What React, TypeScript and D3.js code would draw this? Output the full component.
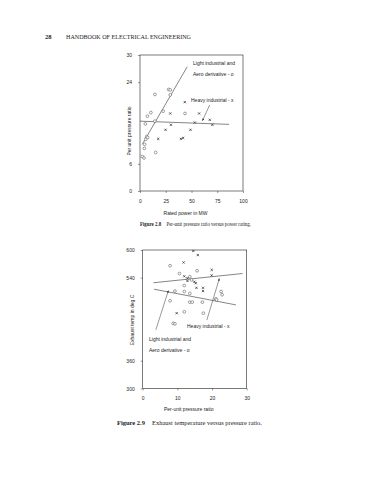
import * as d3 from "d3";
import { useEffect, useRef } from "react";

// Figure 2.8 - per-unit pressure ratio vs rated power
const powerTicks = [0, 25, 50, 75, 100];
const ratioTicks = [0, 6, 24, 30];
const lightPower = [14.5, 27.8, 29.3, 29.4, 22.5, 7.2, 10.6, 43.7, 14.5, 5.2, 6.5, 7.4, 5.5, 4.5, 4.2, 15.2, 2.2, 3.9];
const lightRatio = [21.3, 22.4, 22.3, 21.2, 17.6, 16.5, 17.3, 17.1, 15.4, 14.8, 12.0, 11.8, 11.4, 10.3, 9.4, 8.5, 7.6, 7.3];
const heavyPower = [43.5, 29.4, 57.4, 30.0, 24.8, 53.2, 67.7, 70.3, 17.7, 39.7, 41.9, 49.0];
const heavyRatio = [19.6, 17.1, 17.1, 14.6, 13.5, 15.1, 15.7, 14.6, 11.5, 11.5, 11.7, 13.5];
const lightFit1 = [[2.2, 10.3], [45.8, 27.4]];
const heavyFit1 = [[0, 15.4], [86.5, 14.7]];

// Figure 2.9 - exhaust temperature vs pressure ratio
const prTicks = [0, 10, 20, 30];
const tempTicks = [300, 360, 540, 600];
const heavyPr = [14.6, 15.9, 11.8, 19.9, 19.9, 12.0, 12.9, 14.9, 15.3, 12.9, 15.5, 17.4, 17.4, 9.8];
const heavyTemp = [598, 589, 573, 557, 545, 543, 539, 531, 528, 533, 518, 518, 511, 463];
const lightPr = [7.9, 15.7, 10.6, 13.6, 14.1, 12.0, 9.3, 12.0, 13.6, 22.6, 22.9, 21.1, 21.3, 7.9, 13.6, 14.3, 17.2, 12.0, 17.5, 8.8, 9.3];
const lightTemp = [566, 555, 549, 542, 535, 523, 511, 510, 506, 510, 503, 494, 492, 490, 487, 487, 487, 466, 463, 441, 440];
const heavyFit2 = [[3.1, 529], [28.8, 549]];
const lightFit2 = [[3.3, 515], [26.9, 481]];

const SANS = "Liberation Sans, Arial, sans-serif";
const SERIF = "Liberation Serif, Times New Roman, serif";

type Pt = number[];

interface ChartCfg {
  x: d3.ScaleLinear<number, number>;
  y: d3.ScaleLinear<number, number>;
  xTicks: number[];
  yTicks: number[];
  xTitle: string;
  yTitle: string;
  yTitleX: number;
  yTitleY: number;
  xTitleY: number;
  capBold: string;
  caption: string;
  captionY: number;
  captionX: number;
  captionLen: number;
  circles: Pt[];
  crosses: Pt[];
  fits: Pt[][];
  arrows: Pt[][];
  labels: { text: string; x: number; y: number }[];
}

function drawChart(svg: d3.Selection<SVGSVGElement, unknown, null, undefined>, c: ChartCfg) {
  const g = svg.append("g");
  const [x0, x1] = c.x.range();
  const [y0, y1] = c.y.range();

  // frame
  g.append("rect")
    .attr("x", x0)
    .attr("y", y1)
    .attr("width", x1 - x0)
    .attr("height", y0 - y1)
    .attr("fill", "none")
    .attr("stroke", "#222")
    .attr("stroke-width", 0.6);

  const xAxis = d3.axisBottom(c.x).tickValues(c.xTicks).tickSize(2).tickPadding(6).tickFormat(d3.format("d"));
  const gx = g.append("g").attr("transform", `translate(0,${y0})`).call(xAxis);
  const yAxis = d3.axisLeft(c.y).tickValues(c.yTicks).tickSize(2).tickPadding(6).tickFormat(d3.format("d"));
  const gy = g.append("g").attr("transform", `translate(${x0},0)`).call(yAxis);
  [gx, gy].forEach((a) => {
    a.select(".domain").remove();
    a.selectAll("line").attr("stroke", "#333").attr("stroke-width", 0.5);
    a.selectAll("text").attr("font-family", SANS).attr("font-size", 5).attr("fill", "#222");
  });

  g.append("text")
    .attr("x", (x0 + x1) / 2 - 6)
    .attr("y", c.xTitleY)
    .attr("text-anchor", "middle")
    .attr("font-family", SANS)
    .attr("font-size", 5)
    .attr("fill", "#222")
    .text(c.xTitle);

  g.append("text")
    .attr("transform", `translate(${c.yTitleX},${c.yTitleY}) rotate(-90)`)
    .attr("text-anchor", "middle")
    .attr("font-family", SANS)
    .attr("font-size", 5)
    .attr("fill", "#222")
    .attr("stroke", "white")
    .attr("stroke-width", 3)
    .attr("paint-order", "stroke")
    .text(c.yTitle);

  const line = d3
    .line<Pt>()
    .x((d) => c.x(d[0]))
    .y((d) => c.y(d[1]));

  c.fits.forEach((f) => {
    g.append("path").attr("d", line(f)).attr("fill", "none").attr("stroke", "#333").attr("stroke-width", 0.6);
  });
  c.arrows.forEach((a) => {
    g.append("path")
      .attr("d", line(a))
      .attr("fill", "none")
      .attr("stroke", "#333")
      .attr("stroke-width", 0.5)
      .attr("marker-end", "url(#arrow)");
  });

  g.selectAll("circle.o")
    .data(c.circles)
    .enter()
    .append("circle")
    .attr("cx", (d) => c.x(d[0]))
    .attr("cy", (d) => c.y(d[1]))
    .attr("r", 1.4)
    .attr("fill", "white")
    .attr("stroke", "#444")
    .attr("stroke-width", 0.5);

  const s = 1.1;
  g.selectAll("path.x")
    .data(c.crosses)
    .enter()
    .append("path")
    .attr("d", (d) => {
      const px = c.x(d[0]);
      const py = c.y(d[1]);
      return `M${px - s},${py - s}L${px + s},${py + s}M${px - s},${py + s}L${px + s},${py - s}`;
    })
    .attr("stroke", "#222")
    .attr("stroke-width", 0.7);

  c.labels.forEach((l) => {
    g.append("text")
      .attr("x", l.x)
      .attr("y", l.y)
      .attr("font-family", SANS)
      .attr("font-size", 5)
      .attr("fill", "#222")
      .text(l.text);
  });

  const cap = g
    .append("text")
    .attr("x", c.captionX)
    .attr("y", c.captionY)
    .attr("font-family", SERIF)
    .attr("font-size", 5.5)
    .attr("fill", "#222")
    .attr("textLength", c.captionLen)
    .attr("lengthAdjust", "spacingAndGlyphs");
  cap.append("tspan").attr("font-weight", "bold").text(c.capBold);
  cap.append("tspan").attr("dx", 6).text(c.caption);
}

const zip = (a: number[], b: number[]): Pt[] => a.map((v, i) => [v, b[i]]);

const App = () => {
  const ref = useRef<SVGSVGElement>(null);

  useEffect(() => {
    const svg = d3.select(ref.current!);
    svg.selectAll("*").remove();
    svg.attr("width", 369).attr("height", 480);

    svg
      .append("defs")
      .append("marker")
      .attr("id", "arrow")
      .attr("viewBox", "0 0 10 10")
      .attr("refX", 9)
      .attr("refY", 5)
      .attr("markerWidth", 5)
      .attr("markerHeight", 5)
      .attr("orient", "auto")
      .append("path")
      .attr("d", "M0,1L10,5L0,9Z")
      .attr("fill", "#333");

    // page header
    svg
      .append("text")
      .attr("x", 45)
      .attr("y", 39)
      .attr("font-family", SERIF)
      .attr("font-size", 6.5)
      .attr("font-weight", "bold")
      .attr("fill", "#222")
      .text("28");
    svg
      .append("text")
      .attr("x", 66)
      .attr("y", 39)
      .attr("font-family", SERIF)
      .attr("font-size", 6.5)
      .attr("fill", "#222")
      .attr("textLength", 125)
      .attr("lengthAdjust", "spacingAndGlyphs")
      .text("HANDBOOK OF ELECTRICAL ENGINEERING");

    const x1 = d3.scaleLinear().domain([0, 100]).range([140, 243]);
    const y1 = d3.scaleLinear().domain([0, 30]).range([191, 55]);
    drawChart(svg, {
      x: x1,
      y: y1,
      xTicks: powerTicks,
      yTicks: ratioTicks,
      xTitle: "Rated power in MW",
      yTitle: "Per unit pressure ratio",
      yTitleX: 131,
      yTitleY: 131,
      xTitleY: 215,
      capBold: "Figure 2.8",
      caption: "Per-unit pressure ratio versus power rating.",
      captionX: 140,
      captionY: 226,
      captionLen: 111,
      circles: zip(lightPower, lightRatio),
      crosses: zip(heavyPower, heavyRatio),
      fits: [lightFit1, heavyFit1],
      arrows: [[[67.7, 19.0], [60.6, 15.5]]],
      labels: [
        { text: "Light industrial and", x: 193, y: 65 },
        { text: "Aero derivative - o", x: 193, y: 76 },
        { text: "Heavy industrial - x", x: 191, y: 102 },
      ],
    });

    const x2 = d3.scaleLinear().domain([0, 30]).range([142.7, 246.7]);
    const y2 = d3.scaleLinear().domain([300, 600]).range([388.4, 250]);
    drawChart(svg, {
      x: x2,
      y: y2,
      xTicks: prTicks,
      yTicks: tempTicks,
      xTitle: "Per-unit pressure ratio",
      yTitle: "Exhaust temp in deg C",
      yTitleX: 134,
      yTitleY: 320,
      xTitleY: 411,
      capBold: "Figure 2.9",
      caption: "Exhaust temperature versus pressure ratio.",
      captionX: 117,
      captionY: 425,
      captionLen: 145,
      circles: zip(lightPr, lightTemp),
      crosses: zip(heavyPr, heavyTemp),
      fits: [heavyFit2, lightFit2],
      arrows: [
        [[18.5, 448], [22.1, 538]],
        [[3.8, 427], [7.4, 512]],
      ],
      labels: [
        { text: "Heavy industrial - x", x: 187, y: 328 },
        { text: "Light industrial and", x: 149, y: 341 },
        { text: "Aero derivative - o", x: 149, y: 352 },
      ],
    });
  }, []);

  return <svg ref={ref} style={{ position: "absolute", left: 0, top: 0, background: "white" }}></svg>;
};

export default App;
